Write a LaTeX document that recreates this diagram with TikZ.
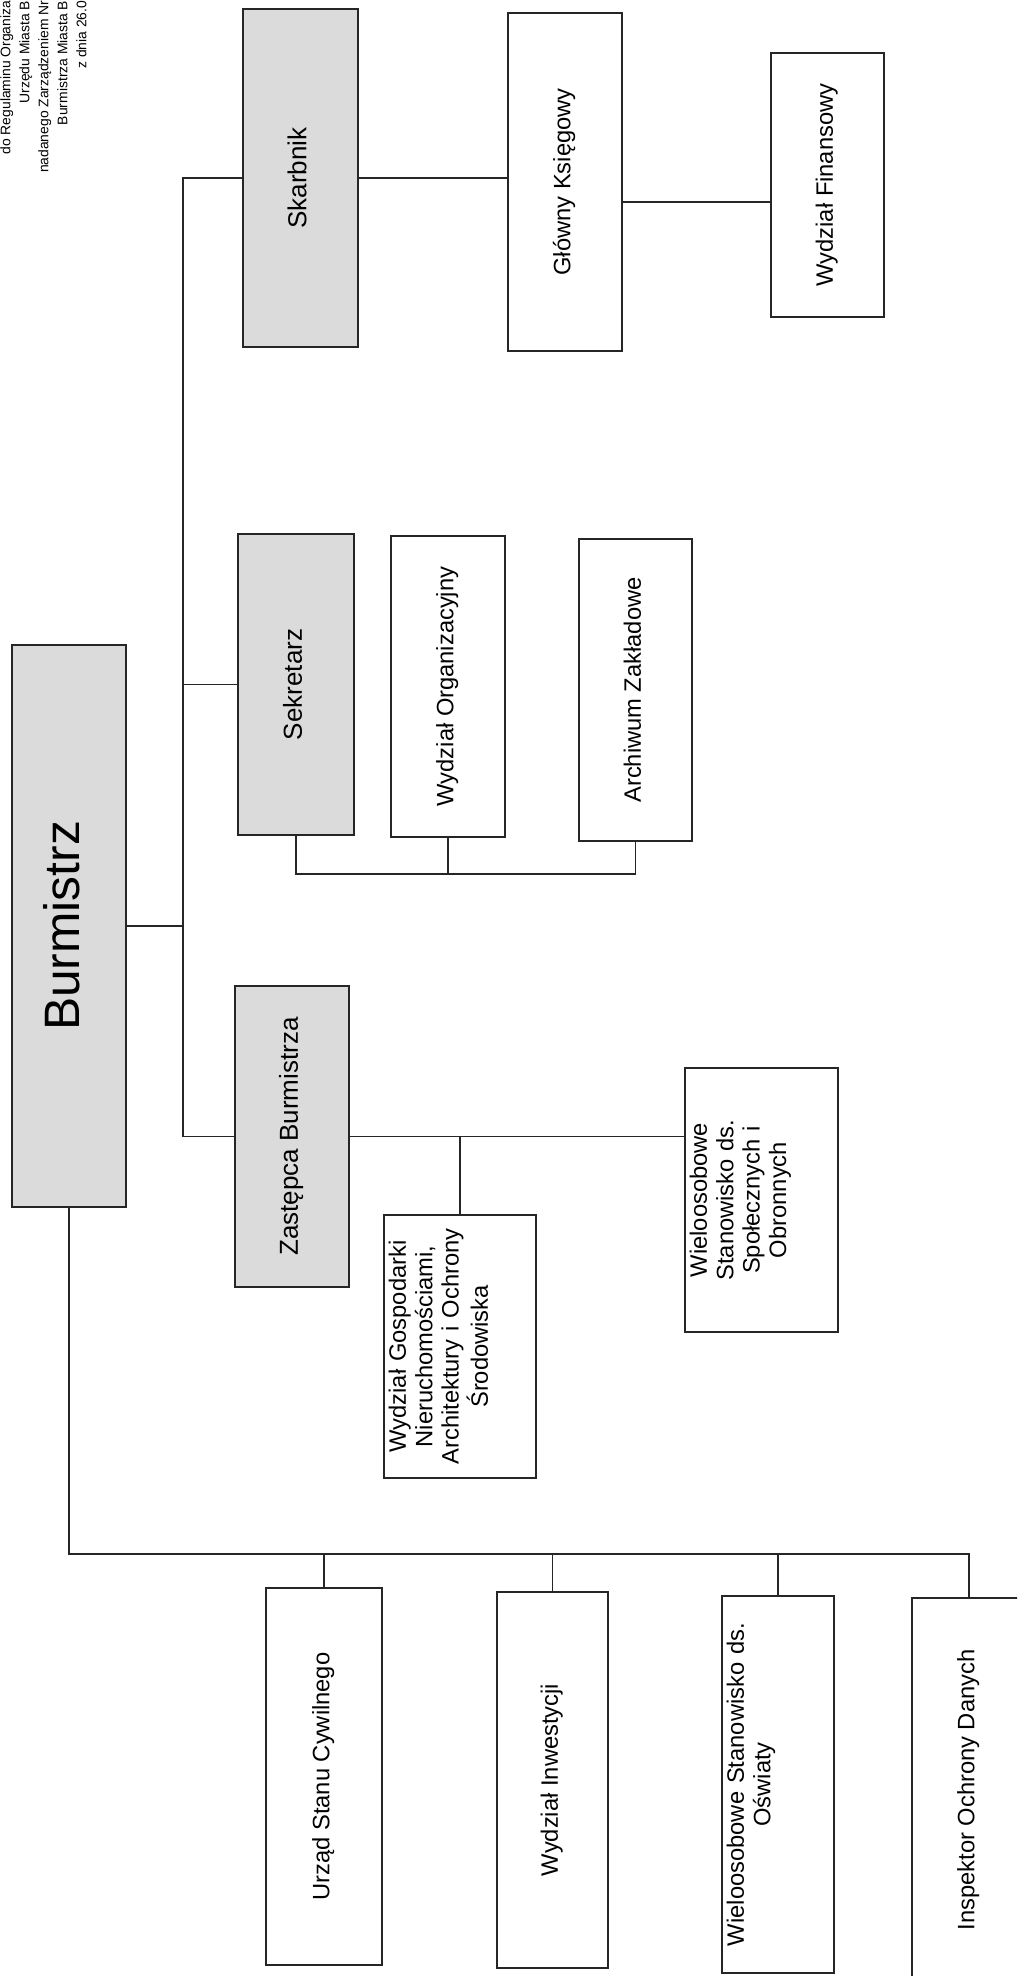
\documentclass[tikz,border=0pt]{standalone}
\usepackage{fontspec}
\setmainfont{Liberation Sans}
\usepackage{graphicx}
\tikzset{
    unitbox/.style={rectangle,draw=black!85,line width=0.8pt,inner sep=2pt,align=center},
    headbox/.style={unitbox,fill=black!14,font=\fontsize{14.8}{16.5}\selectfont},
    deptbox/.style={unitbox,fill=white,font=\fontsize{13.5}{15}\selectfont},
    wrapbox/.style={deptbox,text width=#1,align=left},
    headnote/.style={rotate=90,align=right,inner sep=0pt,font=\fontsize{7.9}{10.8}\selectfont},
    orgline/.style={draw=black!85,line width=0.8pt}
}
\newcommand{\vlabel}[1]{\rotatebox{90}{\begin{tabular}{@{}c@{}}#1\end{tabular}}}

\begin{document}
\begin{tikzpicture}[x=0.02cm,y=-0.02cm]
    \useasboundingbox (0,0) rectangle (1017,1976);
    \clip (0,0) rectangle (1017,1976);
    \node[headnote,anchor=north east] (naglowek) at (0,0.5) {do Regulaminu Organiza\\Urzędu Miasta B\\nadanego Zarządzeniem Nr\\Burmistrza Miasta B\\z dnia 26.0};
    \node[headbox,font=\fontsize{28.3}{30}\selectfont,minimum width=2.28cm,minimum height=11.24cm] (burmistrz) at (69,926) {\vlabel{Burmistrz}};
    \node[headbox,minimum width=2.3cm,minimum height=6.76cm] (skarbnik) at (300.5,178) {\vlabel{Skarbnik}};
    \node[deptbox,minimum width=2.28cm,minimum height=6.76cm] (ksiegowy) at (565,182) {\vlabel{Główny Księgowy}};
    \node[deptbox,minimum width=2.26cm,minimum height=5.28cm] (finanse) at (827.5,185) {\vlabel{Wydział Finansowy}};
    \node[headbox,minimum width=2.32cm,minimum height=6.02cm] (sekretarz) at (296,684.5) {\vlabel{Sekretarz}};
    \node[deptbox,minimum width=2.28cm,minimum height=6.02cm] (organizacja) at (448,686.5) {\vlabel{Wydział Organizacyjny}};
    \node[deptbox,minimum width=2.26cm,minimum height=6.04cm] (archiwum) at (635.5,690) {\vlabel{Archiwum Zakładowe}};
    \node[headbox,minimum width=2.28cm,minimum height=6.02cm] (zastepca) at (292,1136.5) {\vlabel{Zastępca Burmistrza}};
    \node[wrapbox=2.9cm,minimum height=5.26cm] (gospodarka) at (460,1346.5) {\vlabel{Wydział Gospodarki\\Nieruchomościami,\\Architektury i Ochrony\\Środowiska}};
    \node[wrapbox=2.92cm,minimum height=5.28cm] (spoleczne) at (761.5,1200) {\vlabel{Wieloosobowe\\Stanowisko ds.\\Społecznych i\\Obronnych}};
    \node[deptbox,minimum width=2.32cm,minimum height=7.54cm] (usc) at (324,1776.5) {\vlabel{Urząd Stanu Cywilnego}};
    \node[deptbox,minimum width=2.22cm,minimum height=7.52cm] (inwestycje) at (552.5,1780) {\vlabel{Wydział Inwestycji}};
    \node[wrapbox=2.1cm,minimum height=7.54cm] (oswiata) at (778,1784.5) {\vlabel{Wieloosobowe Stanowisko ds.\\Oświaty}};
    \node[deptbox,minimum width=2.28cm,minimum height=7.68cm] (iod) at (969,1790) {\vlabel{Inspektor Ochrony Danych}};
    \coordinate (pion) at (183,0);
    \coordinate (finlink) at (0,202);
    \coordinate (sekrbus) at (0,874);
    \coordinate (dolbus) at (0,1554);
    \draw[orgline] (skarbnik.west) -- (pion |- skarbnik.west) -- (pion |- zastepca.west) -- (zastepca.west);
    \draw[orgline] (sekretarz.west) -- (pion |- sekretarz.west);
    \draw[orgline] (burmistrz.east) -- (pion |- burmistrz.east);
    \draw[orgline] (skarbnik.east) -- (skarbnik.east -| ksiegowy.west);
    \draw[orgline] (ksiegowy.east |- finlink) -- (finanse.west |- finlink);
    \draw[orgline] (sekretarz.south) -- (sekretarz.south |- sekrbus) -- (archiwum.south |- sekrbus) -- (archiwum.south);
    \draw[orgline] (organizacja.south) -- (organizacja.south |- sekrbus);
    \draw[orgline] (zastepca.east) -- (zastepca.east -| spoleczne.west);
    \draw[orgline] (gospodarka.north) -- (gospodarka.north |- zastepca.east);
    \draw[orgline] (burmistrz.south) -- (burmistrz.south |- dolbus) -- (iod.north |- dolbus) -- (iod.north);
    \draw[orgline] (usc.north) -- (usc.north |- dolbus);
    \draw[orgline] (inwestycje.north) -- (inwestycje.north |- dolbus);
    \draw[orgline] (oswiata.north) -- (oswiata.north |- dolbus);
\end{tikzpicture}
\end{document}
